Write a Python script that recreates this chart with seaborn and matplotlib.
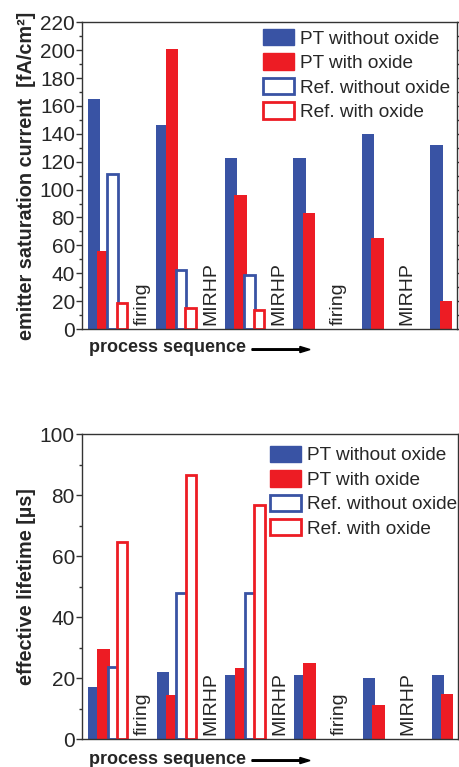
import matplotlib
matplotlib.use("Agg")
import matplotlib.pyplot as plt
from matplotlib.patches import Patch, FancyArrow
from matplotlib.ticker import MultipleLocator
import numpy as np
import pandas as pd
import seaborn as sns

# process steps (6 measurement points) and the treatment between them
steps = ["1", "2", "3", "4", "5", "6"]
treatments = ["firing", "MIRHP", "MIRHP", "firing", "MIRHP"]
series = ["PT without oxide", "PT with oxide", "Ref. without oxide", "Ref. with oxide"]

# emitter saturation current [fA/cm2]
j0_pt_no_ox = [165, 146, 123, 123, 140, 132]
j0_pt_ox = [56, 201, 96, 83, 65, 20]
j0_ref_no_ox = [111, 42, 39, np.nan, np.nan, np.nan]
j0_ref_ox = [19, 15, 14, np.nan, np.nan, np.nan]

# effective lifetime [us]
tau_pt_no_ox = [17, 22, 21, 21, 20, 21]
tau_pt_ox = [29.5, 14.5, 23.2, 24.8, 11.2, 14.8]
tau_ref_no_ox = [23.5, 48, 48, np.nan, np.nan, np.nan]
tau_ref_ox = [64.5, 86.7, 76.7, np.nan, np.nan, np.nan]

blue = "#3953a4"
red = "#ed1c24"
colors = [blue, red, blue, red]

sns.set_style("white")
plt.rcParams["font.family"] = ["Liberation Sans", "DejaVu Sans"]


def long_table(cols):
    rows = []
    for name, vals in zip(series, cols):
        for s, v in zip(steps, vals):
            rows.append({"step": s, "series": name, "value": v})
    return pd.DataFrame(rows)


GW = 0.543          # width of a dodged group
SLOT = GW / 4
BAR = 0.182         # drawn bar width (bars overlap slightly)


def panel(ax, df, ymax, ystep, ylabel, leg_pos):
    sns.barplot(data=df, x="step", y="value", hue="series", hue_order=series,
                palette=colors, dodge=True, width=GW, ax=ax, legend=False,
                errorbar=None, saturation=1)
    for k, cont in enumerate(ax.containers):
        for p in cont.patches:
            p.set_width(BAR)
            if k >= 2:
                p.set_facecolor("white")
                p.set_edgecolor(colors[k])
                p.set_linewidth(2)
                p.set_width(BAR - 0.03)
                p.set_x(p.get_x() + 0.015)
            else:
                p.set_edgecolor("none")
    ax.set_xlim(-0.359, 5.115)
    ax.set_ylim(0, ymax)
    ax.set_xticks([])
    ax.set_xlabel("")
    ax.set_ylabel(ylabel, fontsize=14.3, fontweight="bold", labelpad=3)
    ax.yaxis.set_major_locator(MultipleLocator(ystep))
    ax.yaxis.set_minor_locator(MultipleLocator(ystep / 2))
    ax.tick_params(axis="y", which="major", left=True, right=True, direction="out",
                   length=4, width=1, labelsize=15, pad=1, color="#333333")
    ax.tick_params(axis="y", which="minor", left=True, right=True, direction="out",
                   length=2, width=1, color="#333333")
    for sp in ax.spines.values():
        sp.set_color("#333333")
        sp.set_linewidth(1)
    # treatment labels between the groups
    ends = [3 * SLOT + BAR] * 3 + [SLOT + BAR] * 3
    for i, t in enumerate(treatments):
        end = i - GW / 2 + ends[i]
        nxt = i + 1 - GW / 2
        ax.text((end + nxt) / 2, ymax * 0.012, t, rotation=90, ha="center",
                va="bottom", fontsize=14)
    handles = []
    for k, name in enumerate(series):
        if k < 2:
            handles.append(Patch(facecolor=colors[k], edgecolor=colors[k], label=name))
        else:
            handles.append(Patch(facecolor="white", edgecolor=colors[k], linewidth=2, label=name))
    ax.legend(handles=handles, loc="upper left", bbox_to_anchor=leg_pos,
              frameon=False, fontsize=13.7, handlelength=1.65, handleheight=0.95,
              handletextpad=0.3, labelspacing=0.3, borderaxespad=0, borderpad=0)


fig = plt.figure(figsize=(4.6, 7.67), dpi=100)
ax1 = fig.add_axes([0.178, 0.571, 0.815, 0.400])
ax2 = fig.add_axes([0.178, 0.0365, 0.818, 0.3975])

panel(ax1, long_table([j0_pt_no_ox, j0_pt_ox, j0_ref_no_ox, j0_ref_ox]), 220, 20,
      "emitter saturation current  [fA/cm²]", (0.483, 0.978))
panel(ax2, long_table([tau_pt_no_ox, tau_pt_ox, tau_ref_no_ox, tau_ref_ox]), 100, 20,
      "effective lifetime [µs]", (0.50, 0.962))

# "process sequence ->" captions under each panel
for ytxt in (1 - 348 / 767, 1 - 759 / 767):
    fig.text(89 / 460, ytxt, "process sequence", fontsize=13, fontweight="bold",
             ha="left", va="center")
    fig.patches.append(FancyArrow(
        252 / 460, ytxt - 0.002, 58 / 460, 0, width=0.002, head_width=0.008,
        head_length=0.022, length_includes_head=True, color="black",
        transform=fig.transFigure, figure=fig))

fig.savefig("out.png", dpi=100)
